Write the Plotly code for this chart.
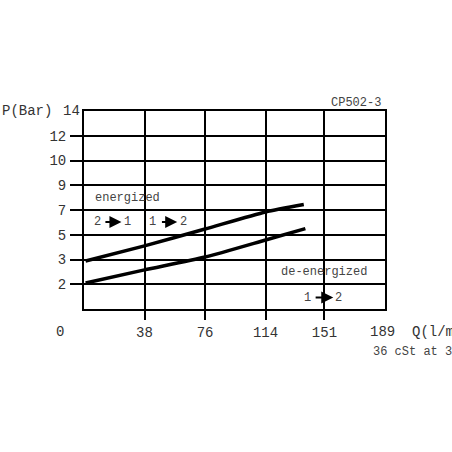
import numpy as np
import plotly.graph_objects as go

# ---- data ----
flow_upper = [1, 38, 76, 114, 138]
pressure_upper = [2.94, 4.1, 5.46, 6.84, 7.44]
flow_lower = [1, 38, 76, 114, 139]
pressure_lower = [2.05, 2.58, 3.2, 4.58, 5.5]

x_ticks = [38, 76, 114, 151]
x_tick_labels = ["38", "76", "114", "151"]
y_scale_values = [0, 2, 3, 5, 7, 9, 10, 12, 14]   # equally spaced on the chart
y_tick_labels = ["2", "3", "5", "7", "9", "10", "12"]

idx = list(range(len(y_scale_values)))


def to_axis(p):
    return np.interp(p, y_scale_values, idx)


fig = go.Figure()
for fx, py in [(flow_upper, pressure_upper), (flow_lower, pressure_lower)]:
    fig.add_trace(go.Scatter(x=fx, y=to_axis(py), mode="lines",
                             line=dict(color="black", width=3.5, shape="spline", smoothing=0.6),
                             hoverinfo="skip", showlegend=False))

W, H = 452, 452
L, R, T, B = 84, 67, 111, 143
PW, PH = W - L - R, H - T - B

mono = "Liberation Mono"
fig.update_layout(
    width=W, height=H,
    margin=dict(l=L, r=R, t=T, b=B),
    paper_bgcolor="white", plot_bgcolor="white",
    showlegend=False,
    font=dict(family=mono, size=14, color="#333"),
)
fig.update_xaxes(range=[0, 189], tickvals=x_ticks, ticktext=x_tick_labels,
                 showgrid=True, gridcolor="black", gridwidth=2,
                 ticks="outside", ticklen=9, tickwidth=2, tickcolor="black",
                 showline=True, linecolor="black", linewidth=2, mirror=True,
                 zeroline=False, ticklabelstandoff=0,
                 tickfont=dict(family=mono, size=14, color="#333"))
fig.update_yaxes(range=[0, 8], tickvals=idx[1:8], ticktext=y_tick_labels,
                 showgrid=True, gridcolor="black", gridwidth=2,
                 ticks="outside", ticklen=12, tickwidth=2, tickcolor="black",
                 showline=True, linecolor="black", linewidth=2, mirror=True,
                 zeroline=False, ticklabelstandoff=1,
                 tickfont=dict(family=mono, size=14, color="#333"))

small = dict(family=mono, size=12, color="#444")
big = dict(family=mono, size=14, color="#333")


def px_x(px):
    return (px - L) / PW


def px_y(py):
    return 1 - (py - T) / PH


ann = []
# outside labels (paper coords)
ann.append(dict(x=px_x(0), y=px_y(111), xref="paper", yref="paper", text="P(Bar)",
                xanchor="left", yanchor="middle", showarrow=False, font=big))
ann.append(dict(x=px_x(82), y=px_y(111), xref="paper", yref="paper", text="14",
                xanchor="right", yanchor="middle", showarrow=False, font=big))
ann.append(dict(x=px_x(60), y=px_y(332), xref="paper", yref="paper", text="0",
                xanchor="center", yanchor="middle", showarrow=False, font=big))
ann.append(dict(x=px_x(368), y=px_y(332), xref="paper", yref="paper", text="189  Q(l/min)",
                xanchor="left", yanchor="middle", showarrow=False, font=big))
ann.append(dict(x=px_x(371), y=px_y(352), xref="paper", yref="paper", text="36 cSt at 38°C",
                xanchor="left", yanchor="middle", showarrow=False, font=small))
ann.append(dict(x=px_x(383), y=px_y(103), xref="paper", yref="paper", text="CP502-3",
                xanchor="right", yanchor="middle", showarrow=False, font=small))

# inside labels (data coords)
ann.append(dict(x=5.6, y=4.48, text="energized", xanchor="left", yanchor="middle",
                showarrow=False, font=small))
ann.append(dict(x=122.4, y=1.5, text="de-energized", xanchor="left", yanchor="middle",
                showarrow=False, font=small))

for (t1, x1, xa, xb, t2, x2, yy) in [
    ("2", 8.2, 12.5, 23.5, "1", 27.0, 3.52),
    ("1", 43.3, 48.0, 58.5, "2", 62.2, 3.52),
    ("1", 140.5, 144.5, 156.5, "2", 159.7, 0.46),
]:
    ann.append(dict(x=x1, y=yy, text=t1, showarrow=False, font=small))
    ann.append(dict(x=x2, y=yy, text=t2, showarrow=False, font=small))
    ann.append(dict(x=xb, y=yy, ax=xa, ay=yy, axref="x", ayref="y", text="",
                    showarrow=True, arrowhead=2, arrowsize=1.2, arrowwidth=2,
                    arrowcolor="black"))

fig.update_layout(annotations=ann)
fig.write_html("out.html", config={"displayModeBar": False},
               post_script="document.body.style.margin='0';document.body.style.overflow='hidden';")
